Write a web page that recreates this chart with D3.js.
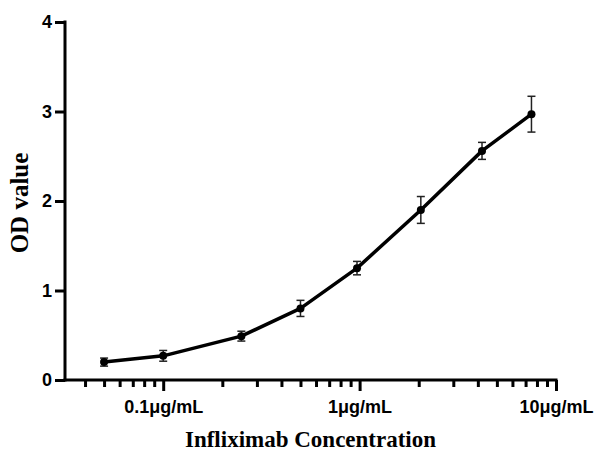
<!DOCTYPE html>
<html>
<head>
<meta charset="utf-8">
<script src="https://cdn.jsdelivr.net/npm/d3@7"></script>
<style>
  html, body { margin: 0; padding: 0; background: #fff; }
  svg { display: block; }
</style>
</head>
<body>
<svg id="chart" width="594" height="454"></svg>
<script>
// ---- data ----
const concentrations = [0.05, 0.1, 0.25, 0.5, 0.97, 2.05, 4.2, 7.5]; // µg/mL
const odMean = [0.20, 0.27, 0.49, 0.80, 1.25, 1.90, 2.56, 2.97];
const odSD   = [0.045, 0.06, 0.055, 0.09, 0.075, 0.15, 0.095, 0.20];
const yTicks = [0, 1, 2, 3, 4];
const xMajorTicks = [0.1, 1, 10];
const xMajorLabels = ["0.1\u03bcg/mL", "1\u03bcg/mL", "10\u03bcg/mL"];
const xMinorTicks = [0.04,0.05,0.06,0.07,0.08,0.09,0.2,0.3,0.4,0.5,0.6,0.7,0.8,0.9,2,3,4,5,6,7,8,9];
const xTitle = "Infliximab Concentration";
const yTitle = "OD value";

// ---- layout ----
const svg = d3.select("#chart");
const mLeft = 65, mRight = 556, mTop = 22, mBottom = 380;

const x = d3.scaleLog().domain([Math.pow(10, -1.5), 10]).range([mLeft, mRight]);
const y = d3.scaleLinear().domain([0, 4]).range([mBottom, mTop]);

const tickFont = "'Liberation Sans', Arial, sans-serif";
const titleFont = "'Liberation Serif', 'Times New Roman', serif";

// X axis
const allX = xMinorTicks.concat(xMajorTicks).sort((a, b) => a - b);
const xAxis = d3.axisBottom(x)
  .tickValues(allX)
  .tickSizeOuter(0)
  .tickSize(11)
  .tickPadding(9)
  .tickFormat(d => {
    const i = xMajorTicks.indexOf(d);
    return i >= 0 ? xMajorLabels[i] : "";
  });
const gx = svg.append("g").attr("transform", `translate(0,${mBottom})`).call(xAxis);
gx.select(".domain").attr("stroke", "#000").attr("stroke-width", 3).attr("d", `M${mLeft - 1.5},0H${mRight + 1.5}`);
gx.selectAll(".tick line")
  .attr("stroke", "#000")
  .attr("stroke-width", 3)
  .attr("y2", d => xMajorTicks.includes(d) ? 11 : 7);
gx.selectAll(".tick text")
  .attr("fill", "#000")
  .style("font-family", tickFont)
  .style("font-size", "18px")
  .style("font-weight", "bold");

// Y axis
const yAxis = d3.axisLeft(y)
  .tickValues(yTicks)
  .tickSizeOuter(0)
  .tickSize(10)
  .tickPadding(3)
  .tickFormat(d3.format("d"));
const gy = svg.append("g").attr("transform", `translate(${mLeft},0)`).call(yAxis);
gy.select(".domain").attr("stroke", "#000").attr("stroke-width", 3).attr("d", `M0,${mTop - 1.5}V${mBottom + 1.5}`);
gy.selectAll(".tick line").attr("stroke", "#000").attr("stroke-width", 3);
gy.selectAll(".tick text")
  .attr("fill", "#000")
  .style("font-family", tickFont)
  .style("font-size", "18px")
  .style("font-weight", "bold");

// Titles
svg.append("text")
  .attr("x", (mLeft + mRight) / 2)
  .attr("y", 447)
  .attr("text-anchor", "middle")
  .style("font-family", titleFont)
  .style("font-size", "23px")
  .style("font-weight", "bold")
  .attr("fill", "#000")
  .text(xTitle);

svg.append("text")
  .attr("transform", `translate(28,${(mTop + mBottom) / 2 + 2}) rotate(-90)`)
  .attr("text-anchor", "middle")
  .style("font-family", titleFont)
  .style("font-size", "25px")
  .style("font-weight", "bold")
  .attr("fill", "#000")
  .text(yTitle);

// Data
const data = concentrations.map((c, i) => ({ c, m: odMean[i], s: odSD[i] }));

// Error bars
const eb = svg.append("g").attr("stroke", "#222").attr("stroke-width", 1.5).attr("fill", "none");
data.forEach(d => {
  const cx = x(d.c), y1 = y(d.m + d.s), y0 = y(d.m - d.s);
  eb.append("line").attr("x1", cx).attr("x2", cx).attr("y1", y1).attr("y2", y0);
  eb.append("line").attr("x1", cx - 4).attr("x2", cx + 4).attr("y1", y1).attr("y2", y1);
  eb.append("line").attr("x1", cx - 4).attr("x2", cx + 4).attr("y1", y0).attr("y2", y0);
});

// Line
const line = d3.line().x(d => x(d.c)).y(d => y(d.m)).curve(d3.curveLinear);
svg.append("path")
  .datum(data)
  .attr("d", line)
  .attr("fill", "none")
  .attr("stroke", "#000")
  .attr("stroke-width", 3.5)
  .attr("stroke-linejoin", "round");

// Points
svg.append("g").selectAll("circle")
  .data(data)
  .join("circle")
  .attr("cx", d => x(d.c))
  .attr("cy", d => y(d.m))
  .attr("r", 4)
  .attr("fill", "#000");
</script>
</body>
</html>
